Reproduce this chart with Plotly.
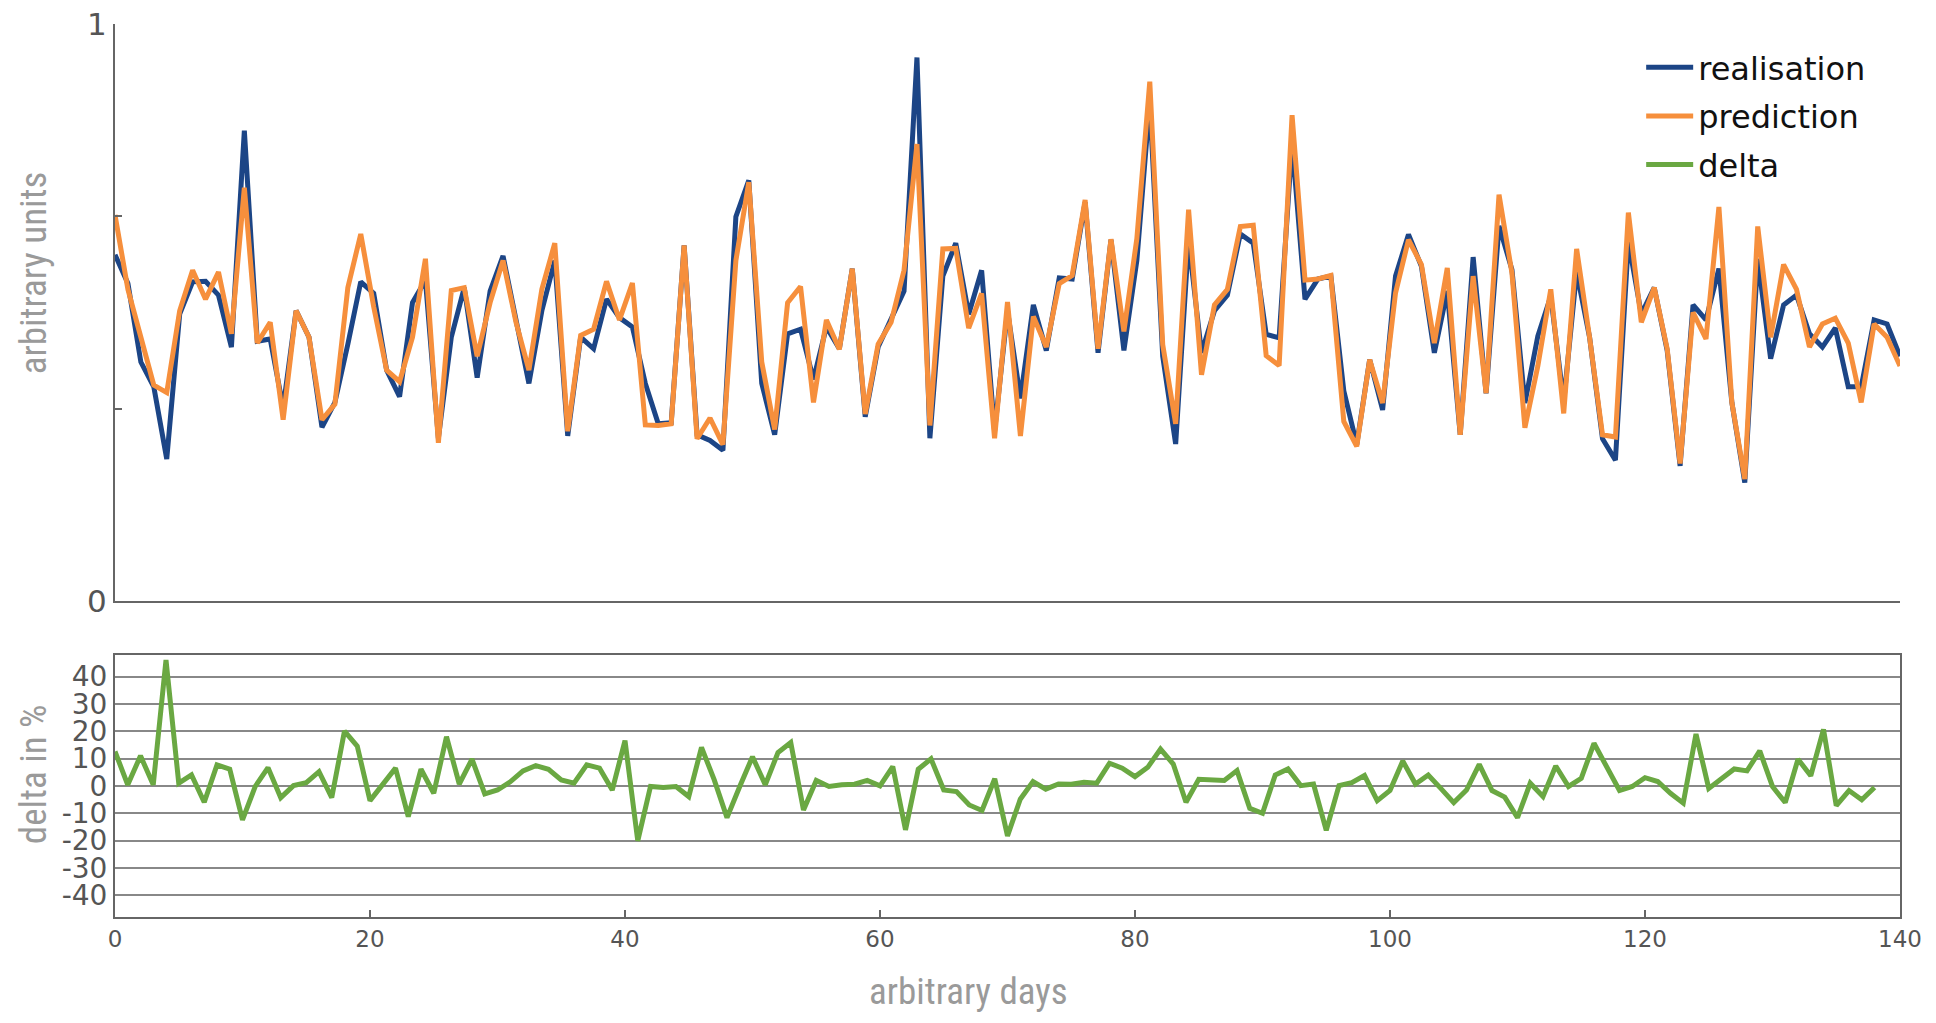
import numpy as np
import plotly.graph_objects as go

# ---- data ----
realisation = [
    0.600, 0.550, 0.414, 0.371, 0.246, 0.497, 0.553, 0.554, 0.530, 0.440,
    0.815, 0.450, 0.454, 0.335, 0.503, 0.457, 0.301, 0.344, 0.445, 0.553,
    0.533, 0.400, 0.354, 0.517, 0.556, 0.282, 0.457, 0.543, 0.387, 0.537,
    0.598, 0.483, 0.377, 0.503, 0.590, 0.286, 0.457, 0.437, 0.523, 0.491,
    0.475, 0.377, 0.307, 0.309, 0.616, 0.288, 0.278, 0.261, 0.666, 0.729,
    0.377, 0.288, 0.463, 0.471, 0.384, 0.475, 0.437, 0.576, 0.319, 0.440,
    0.487, 0.537, 0.942, 0.282, 0.563, 0.620, 0.497, 0.573, 0.294, 0.503,
    0.351, 0.513, 0.434, 0.560, 0.558, 0.691, 0.430, 0.626, 0.434, 0.590,
    0.865, 0.424, 0.272, 0.625, 0.430, 0.503, 0.530, 0.636, 0.620, 0.462,
    0.456, 0.795, 0.523, 0.558, 0.563, 0.364, 0.271, 0.418, 0.331, 0.563,
    0.635, 0.580, 0.430, 0.537, 0.288, 0.596, 0.360, 0.650, 0.574, 0.343,
    0.459, 0.528, 0.345, 0.570, 0.457, 0.281, 0.244, 0.623, 0.497, 0.543,
    0.434, 0.234, 0.513, 0.487, 0.576, 0.344, 0.205, 0.593, 0.420, 0.513,
    0.530, 0.463, 0.440, 0.473, 0.371, 0.371, 0.487, 0.480, 0.424,
]
prediction = [
    0.669, 0.540, 0.457, 0.374, 0.361, 0.503, 0.573, 0.523, 0.570, 0.463,
    0.716, 0.447, 0.483, 0.314, 0.503, 0.457, 0.314, 0.341, 0.543, 0.636,
    0.510, 0.400, 0.380, 0.457, 0.593, 0.274, 0.538, 0.543, 0.424, 0.517,
    0.590, 0.483, 0.400, 0.540, 0.620, 0.294, 0.460, 0.471, 0.554, 0.487,
    0.551, 0.305, 0.304, 0.307, 0.616, 0.281, 0.317, 0.271, 0.590, 0.726,
    0.414, 0.297, 0.517, 0.545, 0.344, 0.487, 0.436, 0.576, 0.324, 0.445,
    0.483, 0.573, 0.792, 0.304, 0.610, 0.611, 0.473, 0.533, 0.282, 0.518,
    0.286, 0.493, 0.440, 0.550, 0.564, 0.695, 0.437, 0.627, 0.467, 0.628,
    0.900, 0.444, 0.307, 0.678, 0.392, 0.513, 0.540, 0.649, 0.651, 0.425,
    0.408, 0.842, 0.556, 0.558, 0.564, 0.311, 0.268, 0.418, 0.343, 0.534,
    0.626, 0.583, 0.447, 0.577, 0.288, 0.563, 0.360, 0.704, 0.568, 0.300,
    0.407, 0.540, 0.325, 0.610, 0.457, 0.288, 0.284, 0.673, 0.483, 0.543,
    0.437, 0.238, 0.500, 0.454, 0.683, 0.344, 0.211, 0.649, 0.457, 0.583,
    0.540, 0.440, 0.480, 0.490, 0.447, 0.344, 0.480, 0.457, 0.407,
]
delta = [
    12.6, 0.4, 11.0, 0.4, 46.1, 1.0, 4.0, -6.0, 7.7, 6.1,
    -12.4, -0.2, 6.7, -4.3, 0.1, 1.2, 5.2, -4.3, 20.1, 14.6,
    -5.4, 0.5, 6.5, -11.2, 6.1, -2.7, 18.0, 0.7, 9.8, -2.9,
    -1.5, 1.5, 5.5, 7.4, 6.1, 2.2, 1.0, 7.7, 6.5, -1.5,
    16.6, -20.1, -0.2, -0.6, -0.2, -3.9, 14.1, 2.2, -11.6, -0.2,
    10.7, 0.4, 12.2, 15.9, -8.8, 2.0, -0.2, 0.4, 0.6, 2.0,
    0.0, 7.1, -16.1, 6.1, 9.9, -1.5, -2.1, -7.0, -9.0, 2.6,
    -18.3, -4.9, 1.6, -1.2, 0.7, 0.6, 1.3, 1.0, 8.3, 6.5,
    3.4, 6.8, 13.5, 8.0, -6.0, 2.4, 2.4, 2.0, 5.6, -8.2,
    -10.0, 4.0, 6.2, 0.1, 0.7, -16.3, 0.1, 1.2, 3.8, -5.4,
    -1.7, 9.1, 0.7, 4.0, -1.0, -6.1, -1.5, 7.9, -1.7, -4.1,
    -11.6, 1.0, -3.9, 7.3, -0.2, 2.8, 15.6, 6.5, -1.7, -0.2,
    3.0, 1.6, -2.7, -6.3, 19.0, -0.9, 2.8, 6.2, 5.5, 12.8,
    -0.2, -6.1, 9.8, 3.7, 20.7, -7.2, -1.7, -5.1, -0.6,
]
days_top = np.linspace(0, 140, len(realisation))
days_delta = list(range(len(delta)))

x_ticks = [0, 20, 40, 60, 80, 100, 120, 140]
top_tickvals = [0, 1 / 3, 2 / 3, 1]
top_ticktext = ["0", "", "", "1"]
delta_ticks = [-40, -30, -20, -10, 0, 10, 20, 30, 40]
delta_ticktext = [str(v) for v in delta_ticks]

BLUE = "#1c4586"
ORANGE = "#f68f3c"
GREEN = "#6aa842"
AXIS = "#666666"
TICKTXT = "#555555"
TITLE = "#9a9a9a"
TICKFONT = "DejaVu Sans, sans-serif"
TITLEFONT = "Liberation Sans Narrow, Roboto Condensed, DejaVu Sans Condensed, Arial Narrow, Roboto, sans-serif"

fig = go.Figure()
fig.add_trace(go.Scatter(x=days_top, y=realisation, mode="lines", name="realisation",
                         legendgroup="a", line=dict(color=BLUE, width=5),
                         xaxis="x", yaxis="y"))
fig.add_trace(go.Scatter(x=days_top, y=prediction, mode="lines", name="prediction",
                         legendgroup="b", line=dict(color=ORANGE, width=5),
                         xaxis="x", yaxis="y"))
fig.add_trace(go.Scatter(x=days_delta, y=delta, mode="lines", name="delta",
                         legendgroup="c", line=dict(color=GREEN, width=5),
                         xaxis="x2", yaxis="y2"))

# page body adds an 8px offset; size the figure so it fits the window
fig.update_layout(
    width=1920, height=1007,
    margin=dict(l=107, r=28, t=16, b=98, autoexpand=False),
    paper_bgcolor="white", plot_bgcolor="white",
    showlegend=True,
    legend=dict(x=0.855, y=0.982, xanchor="left", yanchor="top",
                font=dict(family=TICKFONT, size=32, color="#111111"),
                tracegroupgap=4, itemwidth=47, bgcolor="rgba(0,0,0,0)"),
    xaxis=dict(domain=[0, 1], range=[0, 140], anchor="y", showline=True,
               linecolor=AXIS, linewidth=2, showgrid=False, zeroline=False,
               showticklabels=False, ticks=""),
    yaxis=dict(domain=[0.354, 1], range=[0, 1], anchor="x", showline=True,
               linecolor=AXIS, linewidth=2, showgrid=False, zeroline=False,
               tickvals=top_tickvals, ticktext=top_ticktext, ticks="inside",
               ticklen=7, tickwidth=1.5, tickcolor=AXIS,
               ticklabeloverflow="allow",
               tickfont=dict(family=TICKFONT, size=31, color=TICKTXT)),
    xaxis2=dict(domain=[0, 1], range=[0, 140], anchor="y2", showline=True,
                mirror=True, linecolor=AXIS, linewidth=2, showgrid=False,
                zeroline=False, tickvals=x_ticks, ticks="inside", ticklen=7,
                tickwidth=1.5, tickcolor=AXIS, ticklabeloverflow="allow",
                tickfont=dict(family=TICKFONT, size=23, color=TICKTXT)),
    yaxis2=dict(domain=[0, 0.2936], range=[-48, 48], anchor="x2", showline=True,
                mirror=True, linecolor=AXIS, linewidth=2, showgrid=True,
                gridcolor="#888888", gridwidth=1.5, zeroline=False,
                tickvals=delta_ticks, ticktext=delta_ticktext, ticks="",
                ticklabeloverflow="allow",
                tickfont=dict(family=TICKFONT, size=28, color=TICKTXT)),
    annotations=[
        dict(text="arbitrary units", xref="paper", yref="paper", x=-0.0459, y=0.721,
             textangle=-90, showarrow=False, xanchor="center", yanchor="middle",
             font=dict(family=TITLEFONT, size=37, color=TITLE)),
        dict(text="delta in %", xref="paper", yref="paper", x=-0.0459, y=0.160,
             textangle=-90, showarrow=False, xanchor="center", yanchor="middle",
             font=dict(family=TITLEFONT, size=37, color=TITLE)),
        dict(text="arbitrary days", xref="paper", yref="paper", x=0.478, y=-0.1095,
             showarrow=False, xanchor="center", yanchor="bottom",
             font=dict(family=TITLEFONT, size=37, color=TITLE)),
    ],
)

fig.write_html("out.html")
